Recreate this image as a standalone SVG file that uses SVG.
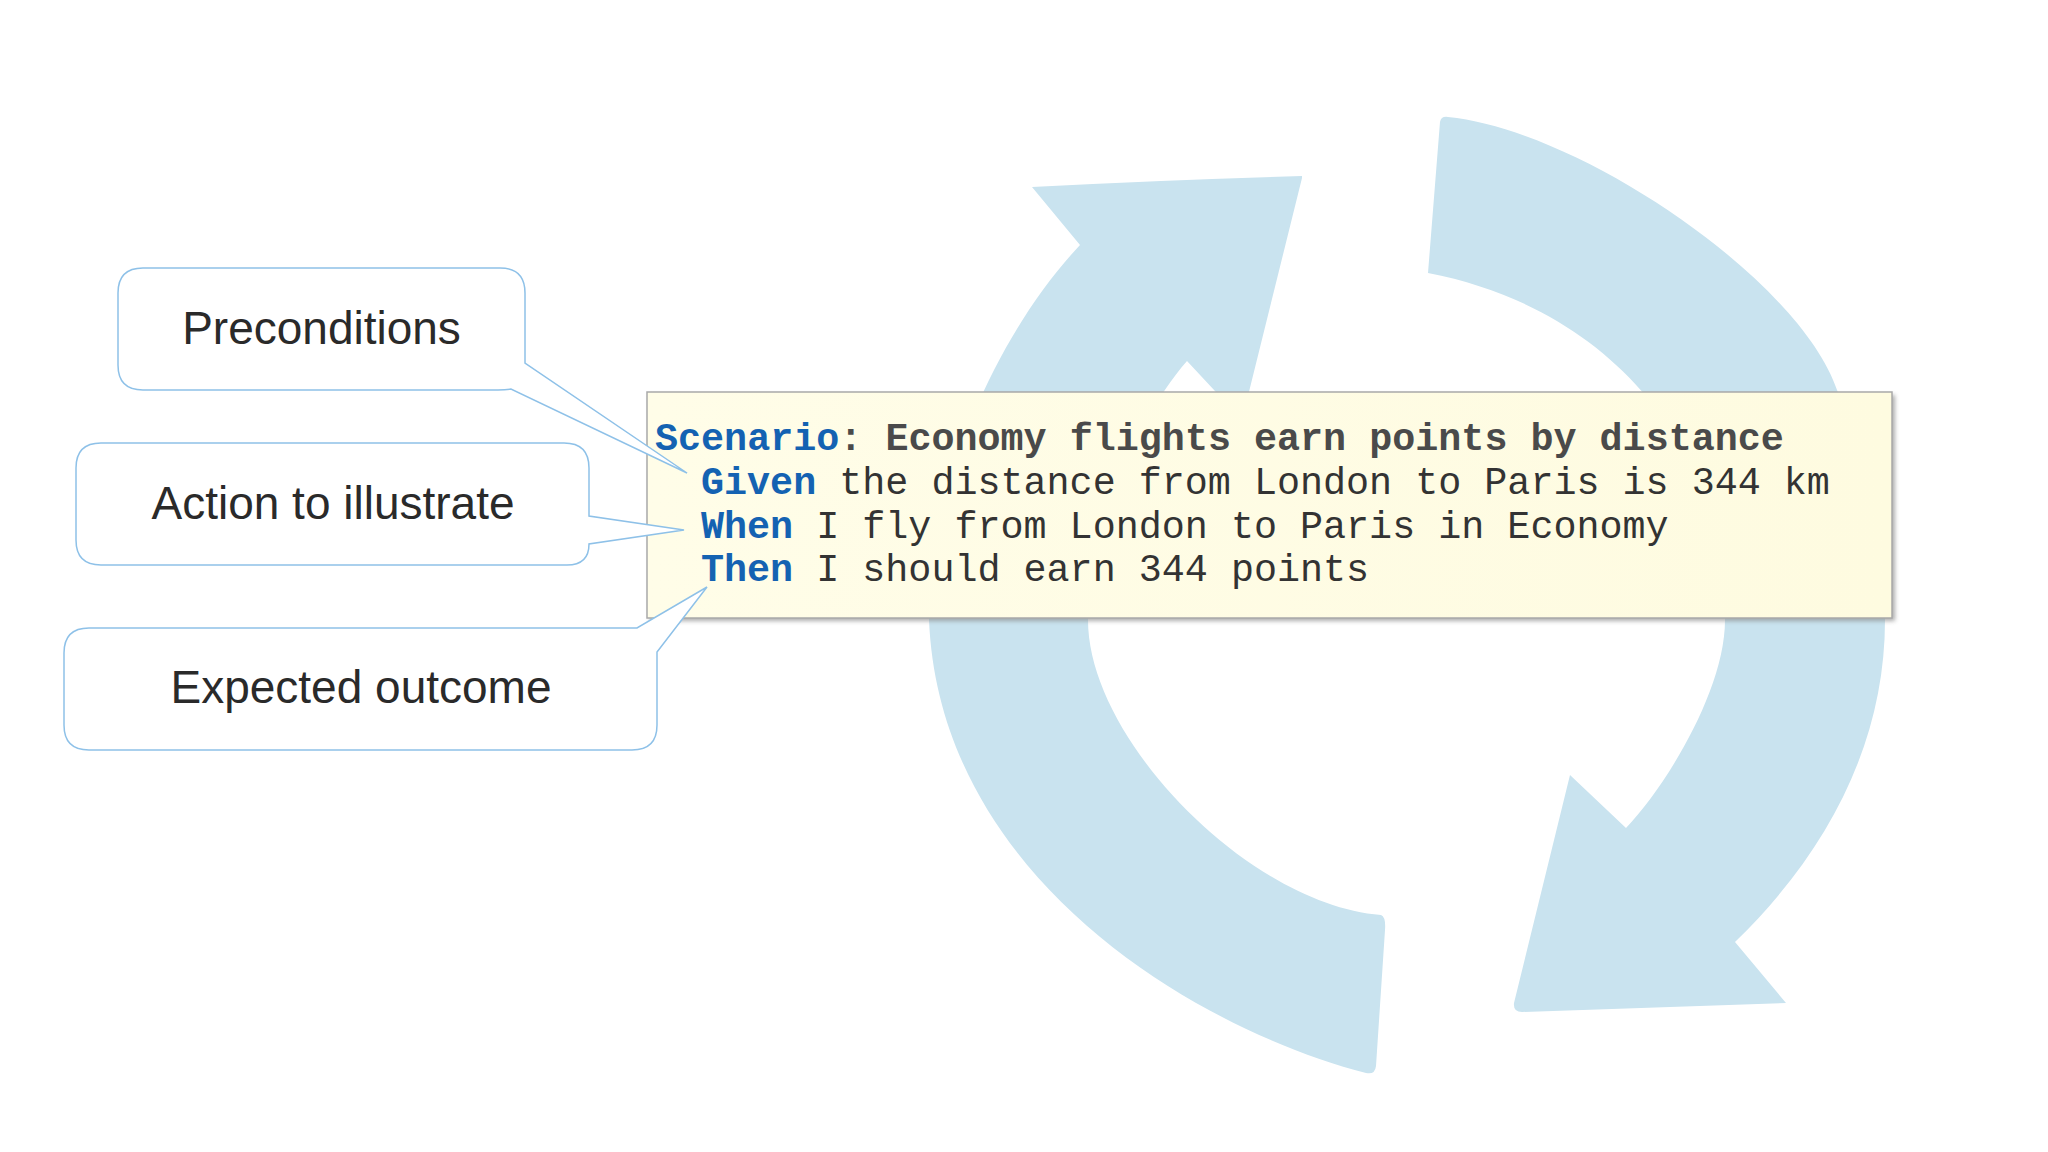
<svg xmlns="http://www.w3.org/2000/svg" width="2048" height="1152" viewBox="0 0 2048 1152">
<defs>
<style>
.arrow{fill:#C9E3EF;stroke:none}
.callout{fill:#FFFFFF;stroke:#8EC1E8;stroke-width:1.5;stroke-linejoin:miter}
.clabel{font-family:"Liberation Sans",Arial,sans-serif;font-size:46px;fill:#2A2A2A;text-anchor:middle}
.code{font-family:"Liberation Mono","Courier New",monospace;font-size:38.4px;fill:#333333}
.kw{font-weight:bold;fill:#1462B2}
.title{font-weight:bold;fill:#4A4A4A}
</style>
<filter id="shadow" x="-5%" y="-5%" width="110%" height="115%">
<feGaussianBlur stdDeviation="2"/>
</filter>
<linearGradient id="paper" x1="0" y1="0" x2="1" y2="0">
<stop offset="0" stop-color="#FFFDE8"/>
<stop offset="1" stop-color="#FEFBE0"/>
</linearGradient>
</defs>
<rect width="2048" height="1152" fill="#FFFFFF"/>

<g id="cycle-arrows">
<path id="arrow-left" class="arrow" d="M 1302,178 L 1242,420 L 1187,361 C 1140,415 1090,520 1088,620 C 1088,740 1250,905 1381,915 Q 1386,917 1385,930 L 1376,1066 Q 1375,1075 1366,1073 C 1200,1030 940,880 929,620 C 929,480 1000,330 1080,245 L 1032,187 Q 1160,180 1302,176 Z"/>
<path id="arrow-right" class="arrow" d="M 1448,117 C 1580,130 1800,280 1837,390 C 1870,460 1885,540 1885,620 C 1885,740 1830,850 1735,942 L 1786,1003 L 1522,1012 Q 1513,1012 1514,1003 L 1570,775 L 1626,828 C 1666,786 1725,690 1725,620 C 1728,460 1620,310 1428,273 L 1440,122 Q 1441,116 1448,117 Z"/>
</g>

<g id="scenario">
<rect x="650" y="395" width="1245" height="226" fill="#8A8A8A" opacity="0.7" filter="url(#shadow)"/>
<rect x="647" y="392" width="1245" height="226" fill="url(#paper)" stroke="#A9A9A9" stroke-width="1.5"/>
<text class="code" x="655" y="450"><tspan class="kw">Scenario</tspan><tspan class="title">: Economy flights earn points by distance</tspan></text>
<text class="code" x="701" y="494"><tspan class="kw">Given</tspan> the distance from London to Paris is 344 km</text>
<text class="code" x="701" y="538"><tspan class="kw">When</tspan> I fly from London to Paris in Economy</text>
<text class="code" x="701" y="581"><tspan class="kw">Then</tspan> I should earn 344 points</text>
</g>

<g id="connectors">
<g id="callout-preconditions">
<path class="callout" d="M 143,268 H 500 Q 525,268 525,293 V 363 L 687,473 L 511,389 Q 506,390 498,390 H 143 Q 118,390 118,365 V 293 Q 118,268 143,268 Z"/>
<text class="clabel" x="321.5" y="344">Preconditions</text>
</g>
<g id="callout-action">
<path class="callout" d="M 101,443 H 564 Q 589,443 589,468 V 516 L 684,530 L 589,544 Q 589,565 567,565 H 101 Q 76,565 76,540 V 468 Q 76,443 101,443 Z"/>
<text class="clabel" x="333" y="519">Action to illustrate</text>
</g>
<g id="callout-expected">
<path class="callout" d="M 89,628 H 637 L 707,587 L 657,652 V 725 Q 657,750 632,750 H 89 Q 64,750 64,725 V 653 Q 64,628 89,628 Z"/>
<text class="clabel" x="361" y="703">Expected outcome</text>
</g>
</g>
</svg>
